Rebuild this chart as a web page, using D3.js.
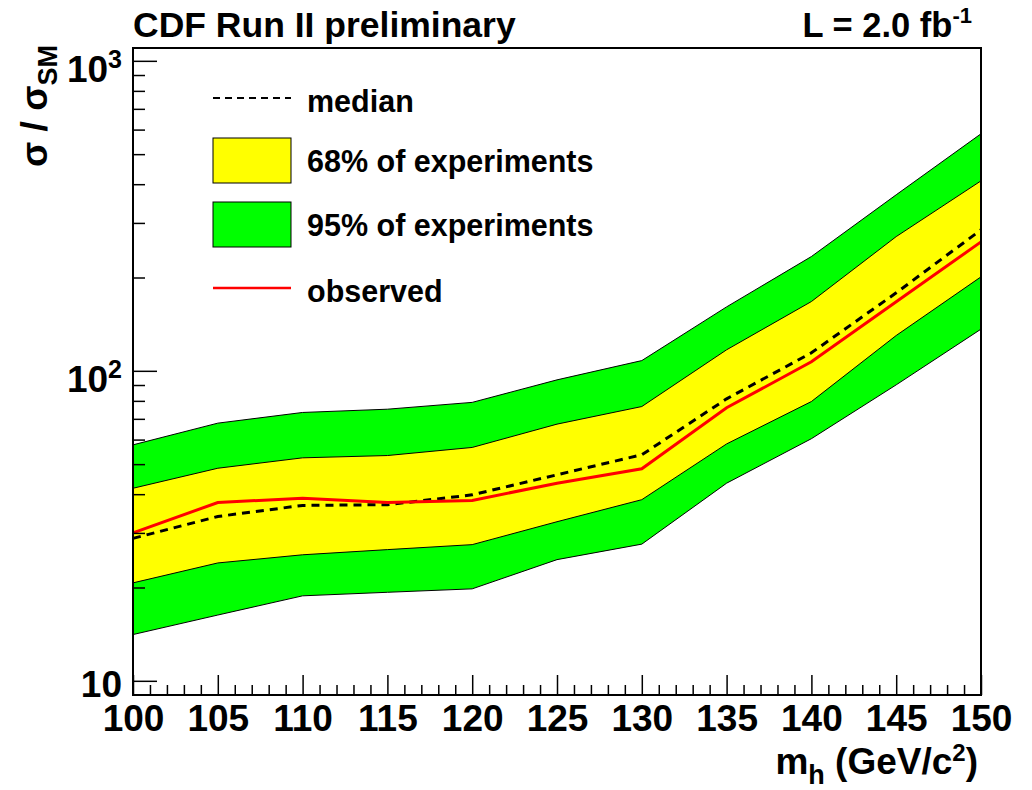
<!DOCTYPE html>
<html lang="en">
<head>
<meta charset="UTF-8">
<title>CDF Run II Higgs limit</title>
<script src="https://d3js.org/d3.v7.min.js"></script>
<style>
    body {
        margin: 0;
        background: #fff;
    }
    svg text {
        font-family: "Liberation Sans", Arial, Helvetica, sans-serif;
        font-weight: bold;
        fill: #000;
    }
    .edge {
        fill: none;
        stroke: #000;
        stroke-width: 1;
    }
</style>
</head>
<body>
<div id="chart"></div>
<script>
// values (sigma / sigma_SM)
const masses   = [100, 105, 110, 115, 120, 125, 130, 135, 140, 145, 150];
const lo95     = [14.1, 16.3, 18.8, 19.3, 19.8, 24.6, 27.6, 43.4, 60.4, 90.1, 136.3];
const lo68     = [20.7, 24.0, 25.5, 26.5, 27.5, 32.6, 38.4, 58.1, 79.6, 130, 201];
const median   = [28.8, 33.9, 36.8, 37.0, 39.8, 46.2, 53.6, 81.2, 114.3, 178.5, 285];
const hi68     = [41.8, 48.5, 52.4, 53.3, 56.6, 67.3, 76.7, 116.9, 167.3, 271, 410];
const hi95     = [57.7, 67.8, 73.4, 75.2, 79.1, 93.5, 107.9, 160.8, 233.7, 369.7, 581.6];
const observed = [30.0, 37.6, 38.8, 37.6, 38.2, 43.4, 48.3, 76.0, 106.9, 167, 260.6];

const xMajor = [100, 105, 110, 115, 120, 125, 130, 135, 140, 145, 150];
const yDecades = [10, 100, 1000];
const legendLabels = ["median", "68% of experiments", "95% of experiments", "observed"];

var margin = {top: 48, right: 51, bottom: 95, left: 133},
    W = 1032, H = 790,
    width = W - margin.left - margin.right,
    height = H - margin.top - margin.bottom;

var svg = d3.select("#chart").append("svg")
    .attr("width", W)
    .attr("height", H);

var g = svg.append("g")
    .attr("transform", "translate(" + margin.left + "," + margin.top + ")");

var x = d3.scaleLinear().domain([100, 150]).range([0, width]);
var y = d3.scaleLog().domain([9, 1100]).range([height, 0]);

var rows = masses.map((m, i) => ({
    m: m, lo95: lo95[i], lo68: lo68[i], med: median[i],
    hi68: hi68[i], hi95: hi95[i], obs: observed[i]
}));

function band(lo, hi) {
    return d3.area().x(d => x(d.m)).y0(d => y(d[lo])).y1(d => y(d[hi]));
}
function line(key) {
    return d3.line().x(d => x(d.m)).y(d => y(d[key]));
}

// bands
g.append("path").datum(rows).attr("d", band("lo95", "hi95")).attr("fill", "#00ff00");
g.append("path").datum(rows).attr("d", band("lo68", "hi68")).attr("fill", "#ffff00");
["lo95", "lo68", "hi68", "hi95"].forEach(k => {
    g.append("path").datum(rows).attr("class", "edge").attr("d", line(k));
});

// median + observed
g.append("path").datum(rows).attr("d", line("med"))
    .attr("fill", "none").attr("stroke", "#000")
    .attr("stroke-width", 3).attr("stroke-dasharray", "8,6");
g.append("path").datum(rows).attr("d", line("obs"))
    .attr("fill", "none").attr("stroke", "#ff0000").attr("stroke-width", 3);

// frame
g.append("rect")
    .attr("width", width).attr("height", height)
    .attr("fill", "none").attr("stroke", "#000").attr("stroke-width", 2);

// x ticks (pointing inward)
var xMinor = d3.range(100, 151, 1).filter(v => xMajor.indexOf(v) < 0);
g.append("g").attr("transform", "translate(0," + height + ")")
    .call(d3.axisBottom(x).tickValues(xMinor).tickSizeInner(-10).tickSizeOuter(0).tickFormat(""))
    .call(a => a.select(".domain").remove())
    .call(a => a.selectAll("line").attr("stroke-width", 1.5));
g.append("g").attr("transform", "translate(0," + height + ")")
    .call(d3.axisBottom(x).tickValues(xMajor).tickSizeInner(-20).tickSizeOuter(0).tickPadding(10).tickFormat(d3.format("d")))
    .call(a => a.select(".domain").remove())
    .call(a => a.selectAll("line").attr("stroke-width", 1.5))
    .call(a => a.selectAll("text").attr("font-size", 37).attr("font-family", null));

// y ticks
var yMinor = [];
[10, 100].forEach(d => { for (var k = 2; k <= 9; k++) yMinor.push(d * k); });
g.append("g")
    .call(d3.axisLeft(y).tickValues(yMinor).tickSizeInner(-12).tickSizeOuter(0).tickFormat(""))
    .call(a => a.select(".domain").remove())
    .call(a => a.selectAll("line").attr("stroke-width", 1.5));
g.append("g")
    .call(d3.axisLeft(y).tickValues(yDecades).tickSizeInner(-24).tickSizeOuter(0).tickFormat(""))
    .call(a => a.select(".domain").remove())
    .call(a => a.selectAll("line").attr("stroke-width", 1.5));

// y tick labels: 10, 10^2, 10^3
yDecades.forEach(v => {
    var p = Math.round(Math.log10(v));
    var t = g.append("text")
        .attr("x", -11)
        .attr("text-anchor", "end")
        .attr("font-size", 37);
    if (p === 1) {
        t.attr("y", y(v) + 16).text("10");
    } else {
        t.attr("y", y(v) + 21).text("10");
        t.append("tspan").attr("font-size", 25).attr("dy", -14).text(p);
    }
});

// titles
svg.append("text").attr("x", 133).attr("y", 37).attr("font-size", 35.5)
    .text("CDF Run II preliminary");
var lum = svg.append("text").attr("x", 972).attr("y", 37).attr("font-size", 34.5)
    .attr("text-anchor", "end").text("L = 2.0 fb");
lum.append("tspan").attr("font-size", 22).attr("dy", -14).text("-1");

var yt = svg.append("text")
    .attr("transform", "translate(47,45) rotate(-90)")
    .attr("text-anchor", "end").attr("font-size", 37)
    .text("\u03c3 / \u03c3");
yt.append("tspan").attr("font-size", 27).attr("dy", 10).text("SM");

var xt = svg.append("text").attr("x", 978).attr("y", 774)
    .attr("text-anchor", "end").attr("font-size", 37).text("m");
xt.append("tspan").attr("font-size", 27).attr("dy", 10).text("h");
xt.append("tspan").attr("font-size", 37).attr("dy", -10).text(" (GeV/c");
xt.append("tspan").attr("font-size", 24).attr("dy", -13).text("2");
xt.append("tspan").attr("font-size", 37).attr("dy", 13).text(")");

// legend
var leg = svg.append("g");
var lx = 213, lw = 78, tx = 307;
var baselines = [112, 172, 236, 302];

leg.append("line").attr("x1", lx).attr("x2", lx + lw).attr("y1", 98).attr("y2", 98)
    .attr("stroke", "#000").attr("stroke-width", 2).attr("stroke-dasharray", "7,5");
leg.append("rect").attr("x", lx).attr("y", 138).attr("width", lw).attr("height", 45)
    .attr("fill", "#ffff00").attr("stroke", "#000").attr("stroke-width", 1);
leg.append("rect").attr("x", lx).attr("y", 202).attr("width", lw).attr("height", 45)
    .attr("fill", "#00ff00").attr("stroke", "#000").attr("stroke-width", 1);
leg.append("line").attr("x1", lx).attr("x2", lx + lw).attr("y1", 288).attr("y2", 288)
    .attr("stroke", "#ff0000").attr("stroke-width", 2.5);

leg.selectAll("text.lab").data(legendLabels).enter().append("text")
    .attr("class", "lab")
    .attr("x", tx)
    .attr("y", (d, i) => baselines[i])
    .attr("font-size", 30.5)
    .text(d => d);
</script>
</body>
</html>
